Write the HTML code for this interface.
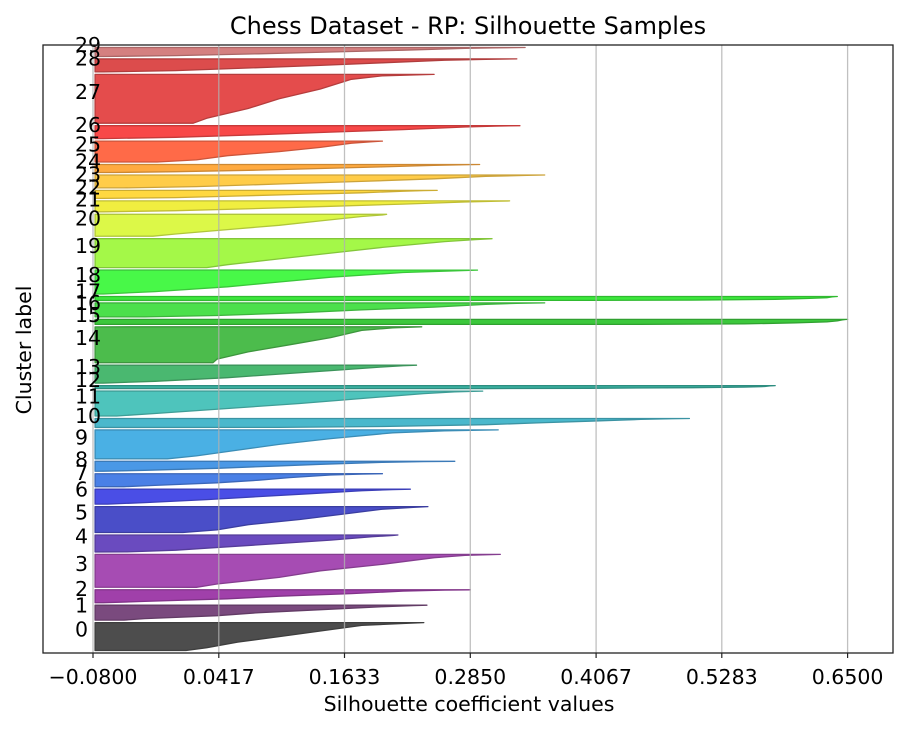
<!DOCTYPE html>
<html><head><meta charset="utf-8"><style>
body{margin:0;background:#fff;}
svg{display:block;font-family:"DejaVu Sans","Liberation Sans",sans-serif;}
</style></head><body>
<svg id="chart" width="912" height="730" viewBox="0 0 912 730" xmlns="http://www.w3.org/2000/svg">
<rect width="912" height="730" fill="#fff"/>
<text x="468" y="34" font-size="24" text-anchor="middle">Chess Dataset - RP: Silhouette Samples</text>
<g id="fills"></g><g id="grid"></g><g id="labels"></g><g id="xticks"></g>
<rect x="43" y="45" width="850" height="608" fill="none" stroke="#222" stroke-width="1.3"/>
<text x="469" y="711" font-size="20.5" text-anchor="middle">Silhouette coefficient values</text>
<text transform="translate(31,350) rotate(-90)" font-size="20.5" text-anchor="middle">Cluster label</text>
</svg>
<script>
const clusterSizes=[112,60,52,132,68,104,60,52,40,116,36,100,12,72,144,20,56,16,96,116,88,44,32,52,32,84,52,196,52,36];
const fractions=[0,0.1,0.3,0.5,0.7,0.9,0.97,1];
const profiles=[
[0.01,0.03,0.06,0.1,0.14,0.18,0.22,0.24],
[-0.05,-0.03,0.04,0.08,0.14,0.2,0.23,0.243],
[-0.07,-0.03,0.05,0.1,0.17,0.22,0.26,0.285],
[0.02,0.04,0.1,0.14,0.2,0.25,0.28,0.314],
[-0.047,0,0.05,0.1,0.15,0.19,0.21,0.215],
[0.007,0.04,0.07,0.12,0.16,0.2,0.23,0.244],
[-0.066,-0.03,0.03,0.08,0.13,0.18,0.21,0.227],
[-0.05,-0.02,0.04,0.08,0.11,0.15,0.18,0.2],
[-0.07,-0.03,0.04,0.09,0.14,0.2,0.24,0.27],
[-0.008,0.02,0.06,0.1,0.15,0.21,0.26,0.312],
[0.1,0.2,0.3,0.35,0.4,0.45,0.48,0.497],
[-0.057,-0.02,0.05,0.12,0.18,0.24,0.27,0.297],
[0.3,0.4,0.5,0.55,0.57,0.575,0.578,0.58],
[-0.07,-0.02,0.05,0.1,0.15,0.2,0.22,0.233],
[0.036,0.04,0.07,0.11,0.15,0.18,0.21,0.238],
[0.45,0.55,0.6,0.63,0.64,0.645,0.648,0.65],
[-0.03,0.04,0.12,0.18,0.25,0.3,0.33,0.357],
[0.4,0.5,0.58,0.61,0.63,0.635,0.638,0.64],
[-0.07,-0.02,0.05,0.1,0.15,0.22,0.27,0.292],
[0.03,0.05,0.1,0.15,0.2,0.26,0.29,0.306],
[-0.022,0,0.05,0.1,0.14,0.18,0.2,0.204],
[-0.07,0,0.08,0.15,0.22,0.28,0.31,0.323],
[-0.07,0,0.06,0.12,0.18,0.22,0.24,0.253],
[-0.05,0.02,0.1,0.18,0.25,0.3,0.34,0.357],
[-0.06,0,0.08,0.14,0.2,0.25,0.28,0.294],
[-0.018,0.02,0.05,0.1,0.14,0.17,0.19,0.2],
[-0.07,0,0.08,0.15,0.22,0.28,0.31,0.333],
[0.017,0.03,0.07,0.1,0.14,0.17,0.2,0.25],
[-0.07,0,0.07,0.14,0.2,0.26,0.3,0.33],
[-0.07,0,0.08,0.15,0.22,0.28,0.31,0.338]];
const clusterColors=["#4d4d4d","#7a4a7e","#a040aa","#a64cb3","#6a4bbf","#4a4ec8","#4a4ee6","#4a80e6","#4a98e6","#4ab0e4","#4ab8cc","#4ec4bc","#3ab0a0","#4ab870","#4cbc4c","#3cc83c","#4ce04c","#3ce83c","#48f848","#a4f848","#dcf848","#f0ee40","#ffd840","#ffcc48","#ffaa40","#ff6a48","#f84848","#e44c4c","#dc4c4c","#d48080"];
const xTickValues=[-0.08,0.0417,0.1633,0.285,0.4067,0.5283,0.65];
const xTickLabels=["\u22120.0800","0.0417","0.1633","0.2850","0.4067","0.5283","0.6500"];
const GAP=10, BASE=-0.078;
const NS="http://www.w3.org/2000/svg";
const L=43,R=893,T=45,B=653;
const X0=-0.08,PXU=125.8/0.1217;
function xs(v){return 93+(v-X0)*PXU;}
let total=GAP;clusterSizes.forEach(s=>total+=s+GAP);
function ys(v){return B-(v/total)*(B-T);}
function el(t,a,p){const e=document.createElementNS(NS,t);for(const k in a)e.setAttribute(k,a[k]);p.appendChild(e);return e;}
function darken(h){const n=parseInt(h.slice(1),16);const f=c=>Math.round(c*0.8);return `rgb(${f(n>>16)},${f((n>>8)&255)},${f(n&255)})`;}
const gF=document.getElementById('fills'),gG=document.getElementById('grid'),gL=document.getElementById('labels'),gX=document.getElementById('xticks');
let yl=GAP;
clusterSizes.forEach((s,i)=>{
  const prof=profiles[i];let pts=[];
  pts.push(xs(BASE)+','+ys(yl));
  fractions.forEach((f,j)=>pts.push(xs(prof[j]).toFixed(1)+','+ys(yl+f*s).toFixed(1)));
  pts.push(xs(BASE)+','+ys(yl+s));
  const p=el('polygon',{points:pts.join(' '),fill:clusterColors[i],stroke:darken(clusterColors[i]),'stroke-width':1.3,'stroke-linejoin':'round'},gF);
  
  
  const t=el('text',{x:75,y:ys(yl+0.5*s),'font-size':20.5},gL);
  t.textContent=String(i);
  
  
  yl+=s+GAP;
});
xTickValues.forEach((v,i)=>{
  const x=xs(v);
  const g=el('line',{x1:x,x2:x,y1:T,y2:B,stroke:'#b0b0b0','stroke-width':1.3,'stroke-opacity':0.8},gG);
  
  
  const tk=el('line',{x1:x,x2:x,y1:B,y2:B+5,stroke:'#222','stroke-width':1.2},gX);
  
  
  const t=el('text',{x:x,y:684,'font-size':20.5,'text-anchor':'middle'},gX);
  t.textContent=xTickLabels[i];
  
  
});
</script>
</body></html>
